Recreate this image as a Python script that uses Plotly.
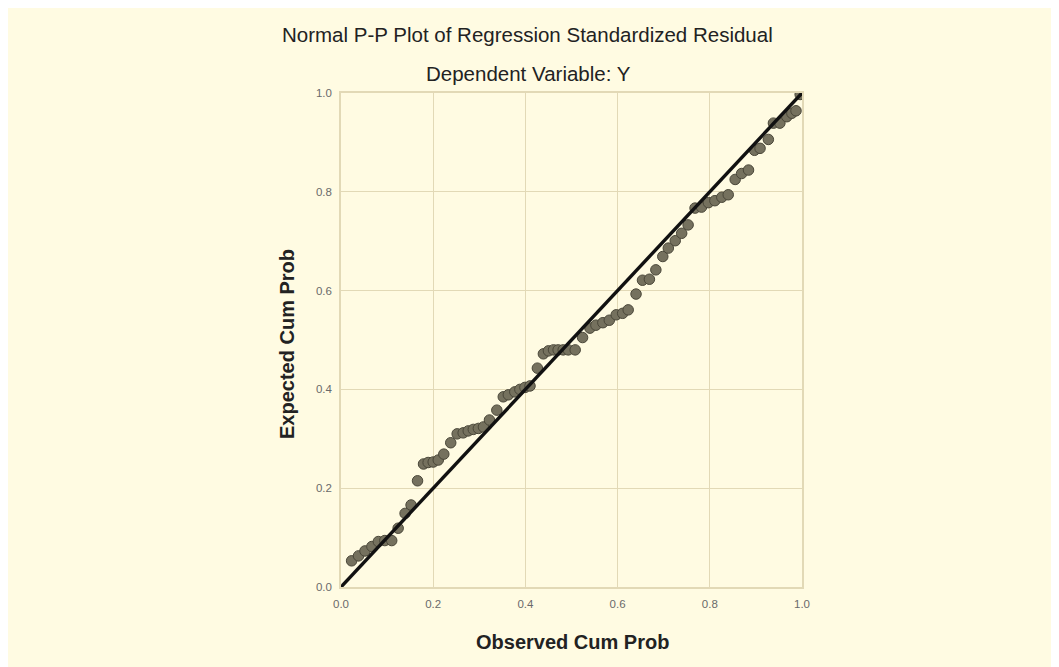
import plotly.graph_objects as go

observed = [0.023, 0.038, 0.052, 0.067, 0.081, 0.095, 0.110, 0.124, 0.139, 0.152,
            0.166, 0.179, 0.189, 0.200, 0.211, 0.223, 0.238, 0.252, 0.265, 0.276,
            0.287, 0.298, 0.309, 0.322, 0.338, 0.352, 0.363, 0.377, 0.388, 0.399,
            0.410, 0.426, 0.439, 0.450, 0.461, 0.471, 0.482, 0.493, 0.508, 0.524,
            0.540, 0.553, 0.568, 0.582, 0.597, 0.611, 0.623, 0.640, 0.654, 0.669,
            0.683, 0.698, 0.710, 0.725, 0.739, 0.753, 0.768, 0.782, 0.797, 0.811,
            0.826, 0.840, 0.855, 0.869, 0.884, 0.897, 0.909, 0.927, 0.938, 0.952,
            0.967, 0.978, 0.987, 0.996]
expected = [0.053, 0.063, 0.073, 0.082, 0.092, 0.094, 0.094, 0.119, 0.149, 0.166,
            0.215, 0.249, 0.252, 0.253, 0.257, 0.269, 0.292, 0.310, 0.312, 0.316,
            0.319, 0.321, 0.324, 0.338, 0.358, 0.385, 0.389, 0.395, 0.400, 0.404,
            0.407, 0.443, 0.472, 0.478, 0.480, 0.480, 0.480, 0.480, 0.480, 0.505,
            0.524, 0.530, 0.535, 0.540, 0.551, 0.554, 0.561, 0.593, 0.621, 0.623,
            0.642, 0.669, 0.686, 0.701, 0.716, 0.733, 0.767, 0.769, 0.778, 0.782,
            0.789, 0.794, 0.825, 0.837, 0.844, 0.884, 0.888, 0.906, 0.939, 0.939,
            0.952, 0.959, 0.964, 0.997]
ref_line = [0.0, 1.0]
tick_vals = [0.0, 0.2, 0.4, 0.6, 0.8, 1.0]
tick_text = ["0.0", "0.2", "0.4", "0.6", "0.8", "1.0"]

bg = "#FFFBE2"
grid = "#E2D9B6"

# page offset of the figure inside the browser (body margin)
OFF = 8
L, T, W, H = 341 - OFF, 93 - OFF, 461, 494
BOTTOM = T + H


def px_x(p):
    return (p - OFF - L) / W


def px_y(p):
    return (BOTTOM - (p - OFF)) / H


fig = go.Figure()
fig.add_trace(go.Scatter(
    x=observed, y=expected, mode="markers",
    marker=dict(size=10.5, color="#75715E", line=dict(color="#4A4739", width=1)),
    showlegend=False, hoverinfo="x+y"))
fig.add_trace(go.Scatter(
    x=ref_line, y=ref_line, mode="lines",
    line=dict(color="#111111", width=3.4), showlegend=False, hoverinfo="skip"))

axis_common = dict(
    range=[0, 1], tickvals=tick_vals, ticktext=tick_text,
    showgrid=True, gridcolor=grid, gridwidth=1,
    zeroline=False, showline=True, linecolor=grid, linewidth=1.5, mirror=True,
    tickfont=dict(family="Liberation Sans, Arial, sans-serif", size=11.5, color="#6a6a6a"),
    ticks="", fixedrange=True)

fig.update_xaxes(**axis_common, ticklabelstandoff=5)
fig.update_yaxes(**axis_common, ticklabelstandoff=5)

fig.add_shape(type="rect", xref="paper", yref="paper",
              x0=px_x(0), x1=px_x(1053), y0=px_y(662), y1=px_y(0),
              fillcolor=bg, line=dict(width=0), layer="below")

font_fam = "Liberation Sans, Arial, sans-serif"
fig.add_annotation(text="Normal P-P Plot of Regression Standardized Residual",
                   xref="paper", yref="paper", x=px_x(527), y=px_y(35),
                   xanchor="center", yanchor="middle",
                   showarrow=False, font=dict(family=font_fam, size=20.5, color="#222222"))
fig.add_annotation(text="Dependent Variable: Y",
                   xref="paper", yref="paper", x=px_x(528), y=px_y(73),
                   xanchor="center", yanchor="middle",
                   showarrow=False, font=dict(family=font_fam, size=20.5, color="#222222"))
fig.add_annotation(text="<b>Observed Cum Prob</b>",
                   xref="paper", yref="paper", x=px_x(572), y=px_y(642),
                   xanchor="center", yanchor="middle",
                   showarrow=False, font=dict(family=font_fam, size=20, color="#222222"))
fig.add_annotation(text="<b>Expected Cum Prob</b>", textangle=-90,
                   xref="paper", yref="paper", x=px_x(287), y=px_y(344),
                   xanchor="center", yanchor="middle",
                   showarrow=False, font=dict(family=font_fam, size=20, color="#222222"))

fig.update_layout(
    width=1059, height=667,
    margin=dict(l=L, r=1059 - L - W, t=T, b=667 - BOTTOM, autoexpand=False),
    paper_bgcolor=bg, plot_bgcolor="rgba(0,0,0,0)",
    showlegend=False)

fig.write_html("out.html")
